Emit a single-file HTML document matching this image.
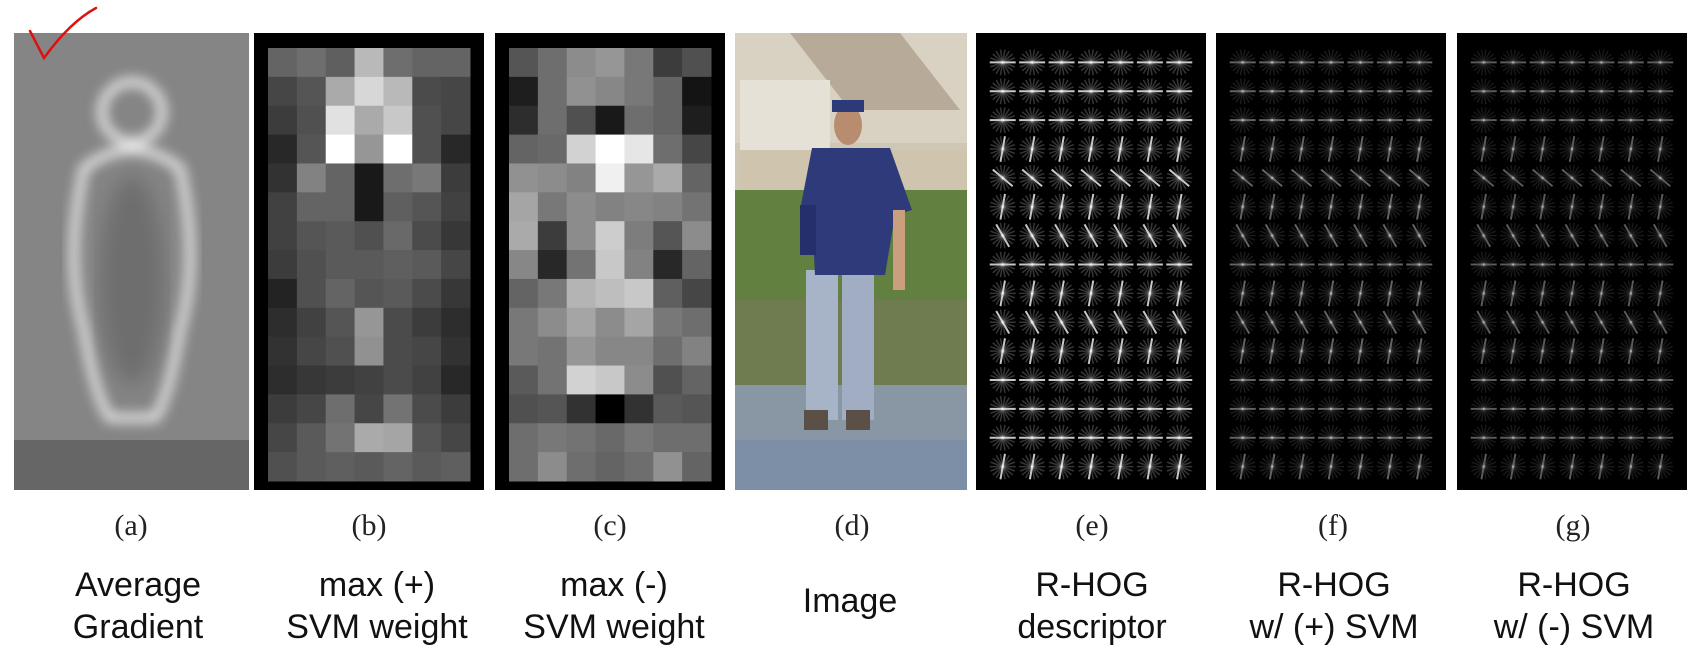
<!DOCTYPE html>
<html><head><meta charset="utf-8"><style>
html,body{margin:0;padding:0;background:#fff;width:1708px;height:648px;overflow:hidden}
svg{display:block}
.lbl{font-family:"Liberation Serif",serif;font-size:30px;fill:#222}
.cap{font-family:"Liberation Sans","Noto Sans CJK KR",sans-serif;font-size:34px;fill:#111}
</style></head><body>
<svg id="fig" width="1708" height="648" viewBox="0 0 1708 648">
<defs>
<filter id="blur6"><feGaussianBlur stdDeviation="6"/></filter>
<filter id="blur10"><feGaussianBlur stdDeviation="10"/></filter>
</defs>
<g>
<rect x="14" y="33" width="235" height="457" fill="#858585"/>
<rect x="14" y="440" width="235" height="50" fill="#666"/>
<g filter="url(#blur6)" fill="none" stroke="#e6e6e6" stroke-width="9">
<ellipse cx="132" cy="112" rx="30" ry="30"/>
<path d="M84 168 Q132 132 180 168 Q200 260 180 330 Q168 400 155 418 L110 418 Q96 400 84 330 Q64 260 84 168 Z"/>
</g>
<g filter="url(#blur10)" fill="#5e5e5e" opacity="0.6"><ellipse cx="132" cy="280" rx="32" ry="105"/></g>
</g>
<path d="M30 31 L44 58 Q70 22 96 8" fill="none" stroke="#e01010" stroke-width="2.5" stroke-linecap="round"/>
<g id="panelB"><rect x="254" y="33" width="230" height="457" fill="#000"/></g>
<g id="panelC"><rect x="495" y="33" width="230" height="457" fill="#000"/></g>
<g>
<rect x="735" y="33" width="232" height="457" fill="#cfc7b6"/>
<rect x="735" y="33" width="232" height="110" fill="#d9d2c2"/>
<path d="M790 33 L900 33 L960 110 L850 110 Z" fill="#b8aa98"/>
<rect x="740" y="80" width="90" height="80" fill="#e6e1d6"/>
<rect x="740" y="150" width="227" height="40" fill="#cfc5ae"/>
<rect x="735" y="190" width="232" height="200" fill="#62803f"/>
<rect x="735" y="300" width="232" height="90" fill="#6f7c50"/>
<rect x="735" y="385" width="232" height="105" fill="#8996a4"/>
<rect x="735" y="440" width="232" height="50" fill="#7d8fa6"/>
<rect x="806" y="270" width="32" height="150" fill="#a7b3c6"/>
<rect x="842" y="270" width="32" height="150" fill="#a0adc2"/>
<rect x="804" y="410" width="24" height="20" fill="#5a5048"/>
<rect x="846" y="410" width="24" height="20" fill="#5a5048"/>
<path d="M812 148 L890 148 L912 210 L895 215 L885 275 L815 275 L812 215 L800 210 Z" fill="#2e3a7a"/>
<rect x="800" y="205" width="16" height="50" fill="#25306a"/>
<rect x="893" y="210" width="12" height="80" fill="#c99f7e"/>
<ellipse cx="848" cy="125" rx="14" ry="20" fill="#b88c6e"/>
<rect x="832" y="100" width="32" height="12" fill="#2d3a78"/>
</g>
<g id="panelE"><rect x="976" y="33" width="230" height="457" fill="#000"/></g>
<g id="panelF"><rect x="1216" y="33" width="230" height="457" fill="#000"/></g>
<g id="panelG"><rect x="1457" y="33" width="230" height="457" fill="#000"/></g>
<g>
<text class="lbl" x="131" y="535" text-anchor="middle">(a)</text>
<text class="lbl" x="369" y="535" text-anchor="middle">(b)</text>
<text class="lbl" x="610" y="535" text-anchor="middle">(c)</text>
<text class="lbl" x="852" y="535" text-anchor="middle">(d)</text>
<text class="lbl" x="1092" y="535" text-anchor="middle">(e)</text>
<text class="lbl" x="1333" y="535" text-anchor="middle">(f)</text>
<text class="lbl" x="1573" y="535" text-anchor="middle">(g)</text>
</g>
<g>
<text class="cap" x="138" y="596" text-anchor="middle">Average</text>
<text class="cap" x="138" y="638" text-anchor="middle">Gradient</text>
<text class="cap" x="377" y="596" text-anchor="middle">max (+)</text>
<text class="cap" x="377" y="638" text-anchor="middle">SVM weight</text>
<text class="cap" x="614" y="596" text-anchor="middle">max (-)</text>
<text class="cap" x="614" y="638" text-anchor="middle">SVM weight</text>
<text class="cap" x="850" y="612" text-anchor="middle">Image</text>
<text class="cap" x="1092" y="596" text-anchor="middle">R-HOG</text>
<text class="cap" x="1092" y="638" text-anchor="middle">descriptor</text>
<text class="cap" x="1334" y="596" text-anchor="middle">R-HOG</text>
<text class="cap" x="1334" y="638" text-anchor="middle">w/ (+) SVM</text>
<text class="cap" x="1574" y="596" text-anchor="middle">R-HOG</text>
<text class="cap" x="1574" y="638" text-anchor="middle">w/ (-) SVM</text>
</g>
</svg>
<script>
const posWeights=[
[100,110,95,185,110,100,100],[70,85,170,215,185,75,70],[60,80,225,170,200,80,70],
[40,85,255,150,255,80,40],[50,130,100,25,110,120,60],[65,100,100,25,95,85,65],
[65,85,90,80,105,75,55],[60,80,90,90,95,90,70],[35,80,100,85,90,75,55],
[45,65,85,150,75,60,45],[50,70,80,145,75,70,50],[45,55,60,65,75,65,40],
[60,70,110,70,115,75,60],[70,90,115,170,165,85,70],[80,90,95,90,100,90,95]];
const negWeights=[
[85,110,140,150,120,60,80],[30,110,145,135,120,100,20],[45,110,80,25,110,100,30],
[100,105,210,255,230,110,70],[145,140,130,240,150,170,100],[165,120,140,130,135,130,115],
[170,60,140,205,125,85,140],[135,40,115,200,130,40,100],[100,120,180,190,200,95,70],
[120,140,165,140,165,120,110],[120,115,150,135,135,110,130],[90,115,210,200,140,80,100],
[80,85,50,0,50,90,85],[110,120,115,105,120,110,110],[110,140,110,100,110,145,100]];
const hogLevels=[0.6,0.3,0.27];
const rowAngles=[0,0,0,90,30,90,60,0,90,60,90,0,0,0,100];
const NS='http://www.w3.org/2000/svg';
function grid(id,x0,y0,w,h,vals){
  const g=document.getElementById(id);
  const cw=w/7,ch=h/15;
  vals.forEach((row,r)=>row.forEach((v,c)=>{
    const e=document.createElementNS(NS,'rect');
    e.setAttribute('x',x0+c*cw);e.setAttribute('y',y0+r*ch);
    e.setAttribute('width',cw+0.5);e.setAttribute('height',ch+0.5);
    e.setAttribute('fill',`rgb(${v},${v},${v})`);
    
    
    g.appendChild(e);
  }));
}
grid('panelB',268,48,202,433,posWeights);
grid('panelC',509,48,202,433,negWeights);
function hog(id,x0,y0,w,h,level){
  const g=document.getElementById(id);
  const cw=w/7,ch=h/15,len=Math.min(cw,ch)*0.45;
  for(let r=0;r<15;r++)for(let c=0;c<7;c++){
    const cx=x0+(c+0.5)*cw,cy=y0+(r+0.5)*ch;
    for(let k=0;k<9;k++){
      const a=k*20;
      const dom=Math.abs(((a-rowAngles[r])%180+180)%180)<15;
      const op=dom?Math.min(1,level*1.3):level*0.35;
      const t=a*Math.PI/180;
      const l=document.createElementNS(NS,'line');
      l.setAttribute('x1',cx-len*Math.cos(t));l.setAttribute('y1',cy-len*Math.sin(t));
      l.setAttribute('x2',cx+len*Math.cos(t));l.setAttribute('y2',cy+len*Math.sin(t));
      l.setAttribute('stroke','#fff');l.setAttribute('stroke-width',dom?2:1.5);
      l.setAttribute('opacity',op);
      
      
      g.appendChild(l);
    }
  }
}
hog('panelE',988,48,206,433,hogLevels[0]);
hog('panelF',1228,48,206,433,hogLevels[1]);
hog('panelG',1469,48,206,433,hogLevels[2]);
</script>
</body></html>
